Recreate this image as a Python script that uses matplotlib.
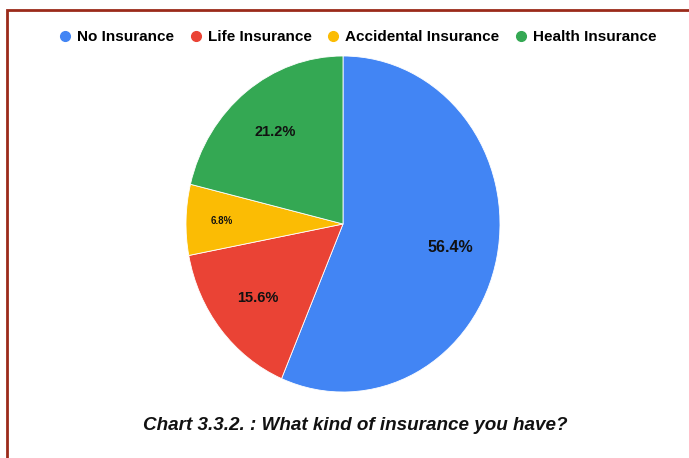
import matplotlib.pyplot as plt
import matplotlib as mpl
from matplotlib.lines import Line2D
from matplotlib.patches import Rectangle

mpl.rcParams["font.family"] = ["Liberation Sans", "DejaVu Sans"]

categories = ["No Insurance", "Life Insurance", "Accidental Insurance", "Health Insurance"]
shares = [56.4, 15.6, 6.8, 21.2]
colors = ["#4285F4", "#EA4335", "#FBBC04", "#34A853"]
title = "Chart 3.3.2. : What kind of insurance you have?"

W, H = 689, 458
fig = plt.figure(figsize=(W / 100, H / 100), dpi=100)

# pie is squashed horizontally in the reference: 157 px wide radius, 168 px tall
rx, ry = 157, 168
ax = fig.add_axes([(343 - rx) / W, (H - 224 - ry) / H, 2 * rx / W, 2 * ry / H])
wedges, texts, autotexts = ax.pie(
    shares, colors=colors, startangle=90, counterclock=False,
    autopct="%.1f%%", pctdistance=0.7,
    wedgeprops=dict(edgecolor="white", linewidth=0.6),
    textprops=dict(fontsize=10.5, fontweight="bold", color="#111111"),
)
ax.set_xlim(-1, 1)
ax.set_ylim(-1, 1)
ax.set_aspect("auto")

# small slice gets a smaller label, placed a bit further out
autotexts[2].set_fontsize(7)
x, y = autotexts[2].get_position()
autotexts[2].set_position((x * 0.77 / 0.7, y * 0.77 / 0.7))
autotexts[0].set_fontsize(11.5)

handles = [Line2D([0], [0], marker="o", linestyle="", markersize=7,
                  markerfacecolor=c, markeredgecolor=c, label=l)
           for c, l in zip(colors, categories)]
fig.legend(handles=handles, loc="center", bbox_to_anchor=(357 / W, 1 - 37 / H),
           ncol=4, frameon=False, handletextpad=0.3, columnspacing=0.9,
           handlelength=1.0, prop=dict(size=11, weight="bold"))

fig.text(355 / W, 1 - 425 / H, title, ha="center", va="center",
         fontsize=13.6, fontweight="bold", fontstyle="italic", color="#111111")

# maroon frame, right and bottom edges fall outside the image
fig.patches.append(Rectangle((7 / W, -0.1), 1.2, 1 - 10 / H + 0.1,
                             transform=fig.transFigure, fill=False,
                             edgecolor="#9B2A1A", linewidth=2))

fig.savefig("out.png", dpi=100)
